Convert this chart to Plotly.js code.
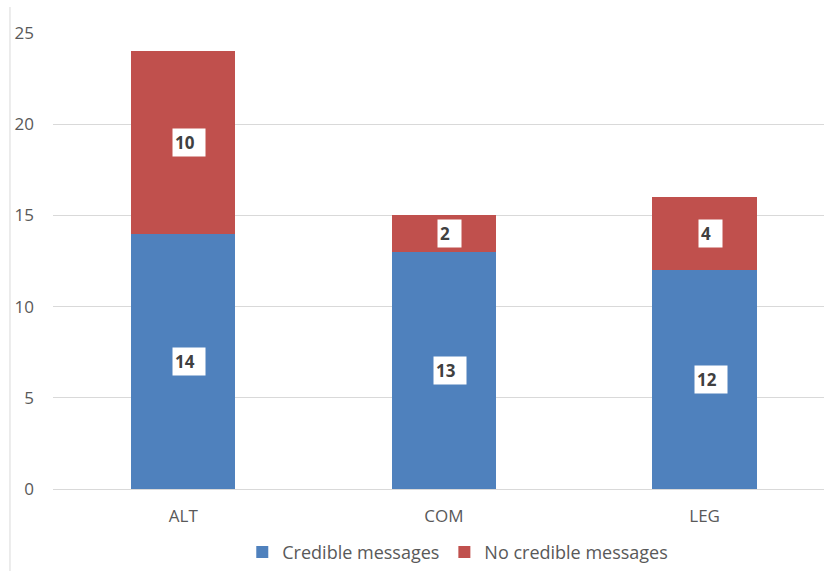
<!DOCTYPE html>
<html>
<head>
<meta charset="utf-8">
<script src="https://cdn.plot.ly/plotly-3.0.1.min.js"></script>
<style>html,body{margin:0;padding:0;background:#fff;}#chart{width:824px;height:571px;}</style>
</head>
<body>
<div id="chart"></div>
<script>
const categories = ["ALT", "COM", "LEG"];
const credible = [14, 13, 12];
const noCredible = [10, 2, 4];
const seriesNames = ["Credible messages", "No credible messages"];
const yTicks = [0, 5, 10, 15, 20, 25];

const blue = "#4F81BD", red = "#C0504D";
const textGray = "#595959";
const fontFam = "'Open Sans', 'Noto Sans', sans-serif";

const traces = [
  {type: "bar", name: seriesNames[0], x: categories, y: credible,
   marker: {color: blue}, hoverinfo: "skip"},
  {type: "bar", name: seriesNames[1], x: categories, y: noCredible,
   marker: {color: red}, hoverinfo: "skip"}
];

const annotations = [];
const nb = "\u00a0\u00a0";
categories.forEach((c, i) => {
  annotations.push({x: c, y: credible[i] / 2, xref: "x", yref: "y",
    text: "<b>" + credible[i] + nb + "</b>", showarrow: false, bgcolor: "#ffffff",
    xshift: 6, borderpad: 2, font: {family: fontFam, size: 17, color: "#404040"}});
  annotations.push({x: c, y: credible[i] + noCredible[i] / 2, xref: "x", yref: "y",
    text: "<b>" + noCredible[i] + nb + "</b>", showarrow: false, bgcolor: "#ffffff",
    xshift: 6, borderpad: 2, font: {family: fontFam, size: 17, color: "#404040"}});
});

const layout = {
  width: 824, height: 571,
  margin: {l: 53, r: 0, t: 33, b: 82, pad: 0},
  paper_bgcolor: "#ffffff", plot_bgcolor: "#ffffff",
  barmode: "stack", bargap: 0.6,
  hovermode: false,
  font: {family: fontFam, size: 17, color: textGray},
  xaxis: {range: [-0.5, 2.458], showgrid: false, zeroline: false, showline: false,
    ticks: "", ticklabelstandoff: 15, tickfont: {size: 17, color: textGray}, fixedrange: true},
  yaxis: {range: [0, 25], tickvals: yTicks, showgrid: true, gridcolor: "#d9d9d9", gridwidth: 1,
    zeroline: true, zerolinecolor: "#d9d9d9", zerolinewidth: 1, showline: false, ticks: "",
    ticklabelstandoff: 18, tickfont: {size: 17, color: textGray}, fixedrange: true},
  legend: {orientation: "h", x: 0.525, xanchor: "center", y: -0.098, yanchor: "top",
    font: {size: 18, color: textGray}, traceorder: "normal", itemclick: false},
  annotations: annotations,
  shapes: [{type: "line", xref: "paper", yref: "paper", x0: -0.0558, x1: -0.0558,
    y0: -0.2, y1: 1.057, line: {color: "#d9d9d9", width: 1}}]
};

Plotly.newPlot("chart", traces, layout, {displayModeBar: false, staticPlot: true});
</script>
</body>
</html>
